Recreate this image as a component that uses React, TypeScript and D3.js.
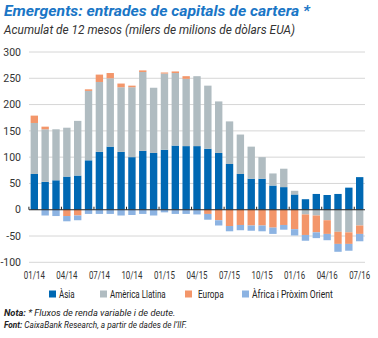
import React from "react";
import * as d3 from "d3";

const months = [
  "01/14","02/14","03/14","04/14","05/14","06/14","07/14","08/14","09/14","10/14","11/14","12/14",
  "01/15","02/15","03/15","04/15","05/15","06/15","07/15","08/15","09/15","10/15","11/15","12/15",
  "01/16","02/16","03/16","04/16","05/16","06/16","07/16",
];
const asia = [68,53,56,63,65,94,110,120,110,100,112,108,114,122,121,121,116,108,87,68,59,59,46,43,29,20,30,28,30,42,62];
const latam = [97,100,97,93,104,132,133,130,123,133,150,124,145,138,128,133,120,98,81,75,61,41,23,35,7,-9,-11,-20,-42,-43,-30];
const europa = [14,5,0,-12,-11,3,14,10,7,3,3,0,2,3,5,0,-8,-20,-31,-29,-30,-30,-34,-29,-37,-39,-32,-26,-23,-22,-16];
const africa = [0,-11,-12,-10,-9,-8,-8,-8,-11,-10,-8,-11,-5,-8,-8,-9,-11,-10,-10,-10,-10,-11,-12,-9,-12,-11,-11,-12,-15,-13,-14];
const yTicks = [300,250,200,150,100,50,0,-50,-100];
const seriesNames = ["Àsia","Amèrica Llatina","Europa","Àfrica i Pròxim Orient"];
const seriesColors = ["#0068b3","#b0bcc1","#f3966a","#8cb3e2"];

export default function App() {
  const keys = ["asia","latam","europa","africa"];
  const rows = months.map((m, i) => ({ m, asia: asia[i], latam: latam[i], europa: europa[i], africa: africa[i] }));
  const stacked = d3.stack<any>().keys(keys).offset(d3.stackOffsetDiverging)(rows);
  const x = d3.scaleBand<string>().domain(months).range([29, 365]).paddingInner(0.32).paddingOuter(0.15);
  const y = d3.scaleLinear().domain([-100, 300]).range([262.3, 52]);
  const font = "Roboto, 'Open Sans', sans-serif";
  const legendX = [[49, 59, 15.7], [100, 110, 55.7], [185, 198, 25.7], [242, 252, 80.7]];
  return (
    <div style={{ position: "fixed", left: 0, top: 0 }}>
      <svg width={378} height={338} style={{ display: "block", background: "#fff" }} fontFamily={font}>
        <text x={4} y={16} fontSize={15.5} fontWeight="bold" fontStyle="italic" fill="#1a76c6"
          textLength={306} lengthAdjust="spacingAndGlyphs">Emergents: entrades de capitals de cartera *</text>
        <text x={4} y={34} fontSize={13} fontStyle="italic" fill="#333"
          textLength={291} lengthAdjust="spacingAndGlyphs">Acumulat de 12 mesos (milers de milions de dòlars EUA)</text>
        {yTicks.map((t) => (
          <g key={t}>
            {t !== 0 && <line x1={29} x2={365} y1={y(t)} y2={y(t)} stroke="#d6d6d6" strokeWidth={1} />}
            <text x={21} y={y(t)} dy="0.35em" textAnchor="end" fontSize={10.5} fill="#333">{t}</text>
          </g>
        ))}
        {stacked.map((s, si) => (
          <g key={s.key} fill={seriesColors[si]}>
            {s.map((d, i) => {
              const y0 = y(d[0]);
              const y1 = y(d[1]);
              const h = Math.abs(y0 - y1);
              if (h < 0.01) return null;
              return <rect key={i} x={x(months[i])} width={x.bandwidth()} y={Math.min(y0, y1)} height={h} />;
            })}
          </g>
        ))}
        <line x1={29} x2={365} y1={y(0)} y2={y(0)} stroke="#222" strokeWidth={1.2} />
        {months.map((m, i) => i % 3 === 0 ? (
          <g key={m}>
            <line x1={(x(m) as number) - x.step() * x.paddingInner() / 2} x2={(x(m) as number) - x.step() * x.paddingInner() / 2}
              y1={y(0)} y2={y(0) - 3} stroke="#222" strokeWidth={1} />
            <text x={(x(m) as number) + x.bandwidth() / 2 - 10.5} y={279} fontSize={10} fill="#333"
              textLength={21} lengthAdjust="spacingAndGlyphs">{m}</text>
          </g>
        ) : null)}
        {seriesNames.map((n, i) => (
          <g key={n}>
            <rect x={legendX[i][0]} y={290.5} width={7} height={7} fill={seriesColors[i]} />
            <text x={legendX[i][1]} y={297.5} fontSize={10.5} fill="#222"
              textLength={legendX[i][2]} lengthAdjust="spacingAndGlyphs">{n}</text>
          </g>
        ))}
        <g transform="translate(4,316) scale(0.98,1)">
          <text x={0} y={0} fontSize={9.5} fontStyle="italic" fill="#222">
            <tspan fontWeight="bold">Nota:</tspan> * Fluxos de renda variable i de deute.
          </text>
        </g>
        <g transform="translate(4,328) scale(0.87,1)">
          <text x={0} y={0} fontSize={9.5} fontStyle="italic" fill="#222">
            <tspan fontWeight="bold">Font:</tspan> CaixaBank Research, a partir de dades de l’IIF.
          </text>
        </g>
      </svg>
    </div>
  );
}
